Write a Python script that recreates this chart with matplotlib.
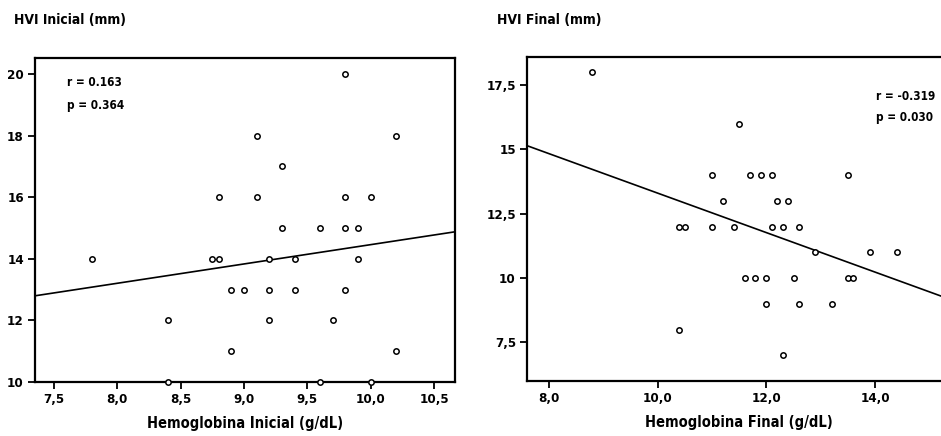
import matplotlib
matplotlib.use("Agg")
import matplotlib.pyplot as plt
import numpy as np

plt.rcParams['font.family'] = ['DejaVu Sans']
plt.rcParams['font.stretch'] = 'condensed'

# Left panel: initial hemoglobin vs initial HVI
hb_inicial = [9.8, 9.1, 10.2, 9.3, 8.8, 9.1, 9.8, 10.0,
              9.3, 9.6, 9.8, 9.9,
              7.8, 8.75, 8.8, 9.2, 9.4, 9.9,
              8.9, 9.0, 9.2, 9.4, 9.8,
              8.4, 9.2, 9.7,
              8.9, 10.2,
              8.4, 9.6, 10.0]
hvi_inicial = [20, 18, 18, 17, 16, 16, 16, 16,
               15, 15, 15, 15,
               14, 14, 14, 14, 14, 14,
               13, 13, 13, 13, 13,
               12, 12, 12,
               11, 11,
               10, 10, 10]
fit_inicial = (0.627, 8.19)   # slope, intercept
stats_inicial = ["r = 0.163", "p = 0.364"]

# Right panel: final hemoglobin vs final HVI
hb_final = [8.8, 11.5,
            11.0, 11.7, 11.9, 12.1, 13.5,
            11.2, 12.2, 12.4,
            10.4, 10.5, 11.0, 11.4, 12.1, 12.3, 12.6,
            12.9, 13.9, 14.4,
            11.6, 11.8, 12.0, 12.5, 13.5, 13.6,
            12.0, 12.6, 13.2,
            10.4, 12.3]
hvi_final = [18, 16,
             14, 14, 14, 14, 14,
             13, 13, 13,
             12, 12, 12, 12, 12, 12, 12,
             11, 11, 11,
             10, 10, 10, 10, 10, 10,
             9, 9, 9,
             8, 7]
fit_final = (-0.767, 20.97)
stats_final = ["r = -0.319", "p = 0.030"]

xticks_l = [7.5, 8.0, 8.5, 9.0, 9.5, 10.0, 10.5]
xticklabels_l = ["7,5", "8,0", "8,5", "9,0", "9,5", "10,0", "10,5"]
yticks_l = [10, 12, 14, 16, 18, 20]
yticklabels_l = ["10", "12", "14", "16", "18", "20"]
xticks_r = [8.0, 10.0, 12.0, 14.0]
xticklabels_r = ["8,0", "10,0", "12,0", "14,0"]
yticks_r = [7.5, 10, 12.5, 15, 17.5]
yticklabels_r = ["7,5", "10", "12,5", "15", "17,5"]

W, H = 941, 436
fig = plt.figure(figsize=(W / 100, H / 100), dpi=100)

def px_axes(l, t, r, b):
    return fig.add_axes([l / W, 1 - b / H, (r - l) / W, (b - t) / H])

fs = 9.5
fs_stats = 8.5

def style(ax, xlim, ylim, xt, xtl, yt, ytl):
    ax.set_xlim(*xlim)
    ax.set_ylim(*ylim)
    ax.set_xticks(xt)
    ax.set_xticklabels(xtl)
    ax.set_yticks(yt)
    ax.set_yticklabels(ytl)
    ax.tick_params(direction='out', length=5, width=1.3, labelsize=fs, pad=3)
    for s in ax.spines.values():
        s.set_linewidth(1.6)
    for lab in ax.get_xticklabels() + ax.get_yticklabels():
        lab.set_fontweight('bold')

# Left
ax1 = px_axes(35, 58, 455, 382)
style(ax1, (7.35, 10.665), (10, 20.52), xticks_l, xticklabels_l, yticks_l, yticklabels_l)
ax1.scatter(hb_inicial, hvi_inicial, s=15, facecolors='white', edgecolors='black',
            linewidths=1.1, zorder=3, clip_on=False)
xl = np.array(ax1.get_xlim())
ax1.plot(xl, fit_inicial[0] * xl + fit_inicial[1], color='black', lw=1.2, zorder=2)
fig.text(67 / W, 1 - 82 / H, stats_inicial[0], fontsize=fs_stats,
         fontweight='bold', va='center', ha='left')
fig.text(67 / W, 1 - 106 / H, stats_inicial[1], fontsize=fs_stats,
         fontweight='bold', va='center', ha='left')
ax1.set_xlabel("Hemoglobina Inicial (g/dL)", fontsize=10.5, fontweight='bold', labelpad=7)
fig.text(14 / W, 1 - 20 / H, "HVI Inicial (mm)", fontsize=10, fontweight='bold',
         ha='left', va='center')

# Right
ax2 = px_axes(527, 57, 950, 381)
style(ax2, (7.595, 15.38), (6.0, 18.59), xticks_r, xticklabels_r, yticks_r, yticklabels_r)
ax2.scatter(hb_final, hvi_final, s=15, facecolors='white', edgecolors='black',
            linewidths=1.1, zorder=3)
xr = np.array(ax2.get_xlim())
ax2.plot(xr, fit_final[0] * xr + fit_final[1], color='black', lw=1.2, zorder=2)
fig.text(876 / W, 1 - 96 / H, stats_final[0], fontsize=fs_stats,
         fontweight='bold', va='center', ha='left')
fig.text(876 / W, 1 - 117 / H, stats_final[1], fontsize=fs_stats,
         fontweight='bold', va='center', ha='left')
ax2.set_xlabel("Hemoglobina Final (g/dL)", fontsize=10.5, fontweight='bold', labelpad=7)
fig.text(497 / W, 1 - 20 / H, "HVI Final (mm)", fontsize=10, fontweight='bold',
         ha='left', va='center')

fig.savefig("out.png", dpi=100)
